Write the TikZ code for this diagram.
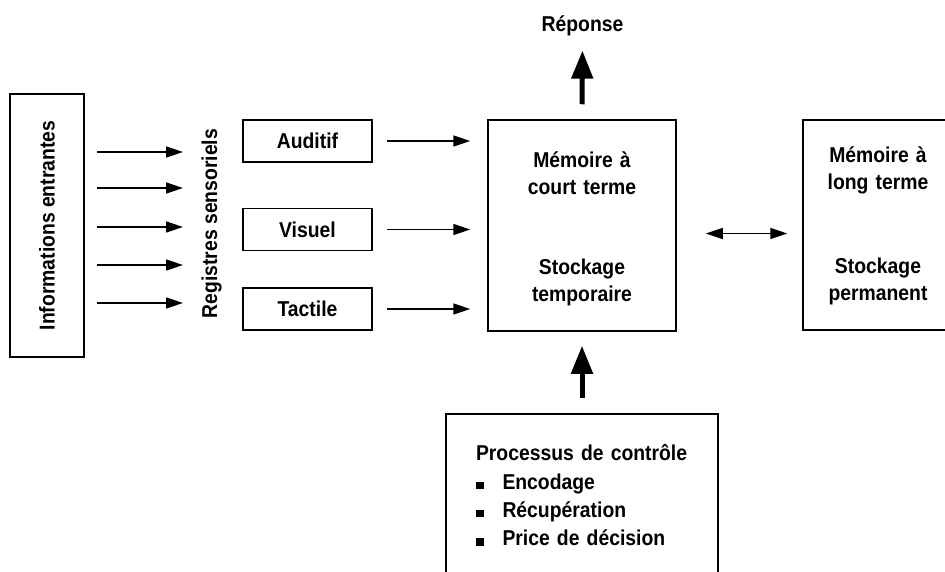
\documentclass[tikz,border=0pt]{standalone}
\usepackage{fontspec}
\setmainfont{Liberation Sans}[FakeStretch=0.9]
\usetikzlibrary{arrows.meta}
\begin{document}
\begin{tikzpicture}[x=1pt,y=-1pt,
  font=\fontsize{21.5}{27}\selectfont\bfseries,
  boite/.style={draw,line width=1.5pt,inner sep=0pt},
  fleche/.style={line width=1.6pt,-{Triangle[length=17pt,width=11pt]}},
  double fleche/.style={line width=1.6pt,{Triangle[length=17pt,width=11pt]}-{Triangle[length=17pt,width=11pt]}},
  grosse/.style={line width=5pt,-{Triangle[length=28pt,width=21pt]}}]
\useasboundingbox (0,0) rectangle (945,572);
% Noeud informations entrantes
\draw(47,225.5)node[boite,rotate=90,minimum width=263,minimum height=74](node info){Informations entrantes}
     % Noeud registres sensoriels
     (217,223.5)node[rotate=90,anchor=base,inner sep=0pt](node reg){Registres sensoriels}
     % Noeuds auditif, visuel, tactile
     (307.5,141)node[boite,minimum width=129,minimum height=42](node aud){Auditif}
     (307.5,229.5)node[boite,minimum width=129,minimum height=42](node vis){Visuel}
     (307.5,309)node[boite,minimum width=129,minimum height=42](node tac){Tactile}
     % Noeud memoire a court terme
     (582,225.5)node[boite,minimum width=188,minimum height=211,text width=150,align=center,
        text height=14pt,text depth=129pt](node mct){M\'emoire \`a\\court terme\\[53pt]Stockage\\temporaire}
     % Noeud memoire a long terme
     (878,225)node[boite,minimum width=150,minimum height=210,text width=140,align=center,
        text height=14pt,text depth=138pt](node mlt){M\'emoire \`a\\long terme\\[57pt]Stockage\\permanent}
     % Noeud reponse
     (582.5,32)node[anchor=base,inner sep=0pt](node rep){R\'eponse}
     % Noeud processus de controle
     (582,413)node[boite,anchor=north,minimum width=272,minimum height=180,text width=212,align=left,
        text height=14pt,text depth=100pt,font=\fontsize{21.5}{28.3}\selectfont\bfseries](node proc)
        {Processus de contr\^ole\\
         \rule{7.5pt}{7.5pt}\hspace{19pt}Encodage\\
         \rule{7.5pt}{7.5pt}\hspace{19pt}R\'ecup\'eration\\
         \rule{7.5pt}{7.5pt}\hspace{19pt}Price de d\'ecision};

% Fleches des informations vers les registres
\coordinate (e1) at (97,152);  \coordinate (s1) at (183,152);
\coordinate (e2) at (97,188);  \coordinate (s2) at (183,188);
\coordinate (e3) at (97,227);  \coordinate (s3) at (183,227);
\coordinate (e4) at (97,265);  \coordinate (s4) at (183,265);
\coordinate (e5) at (97,303);  \coordinate (s5) at (183,303);
\draw[fleche](e1)--(s1);
\draw[fleche](e2)--(s2);
\draw[fleche](e3)--(s3);
\draw[fleche](e4)--(s4);
\draw[fleche](e5)--(s5);
% Fleches des registres vers la memoire a court terme
\draw[fleche,shorten <=14pt,shorten >=17pt](node aud.east)--(node aud.east -| node mct.west);
\draw[fleche,shorten <=14pt,shorten >=17pt](node vis.east)--(node vis.east -| node mct.west);
\draw[fleche,shorten <=14pt,shorten >=17pt](node tac.east)--(node tac.east -| node mct.west);
% Grosse fleche vers la reponse
\draw[grosse,shorten <=15pt,shorten >=14pt](node mct.north)--(node rep.south);
% Grosse fleche du processus de controle
\draw[grosse,shorten <=15pt,shorten >=14pt](node proc.north)--(node mct.south);
% Fleche double entre les deux memoires
\draw[double fleche,shorten <=29pt,shorten >=15pt]([yshift=-8pt]node mct.east)--([yshift=-8pt]node mct.east -| node mlt.west);
\end{tikzpicture}
\end{document}
